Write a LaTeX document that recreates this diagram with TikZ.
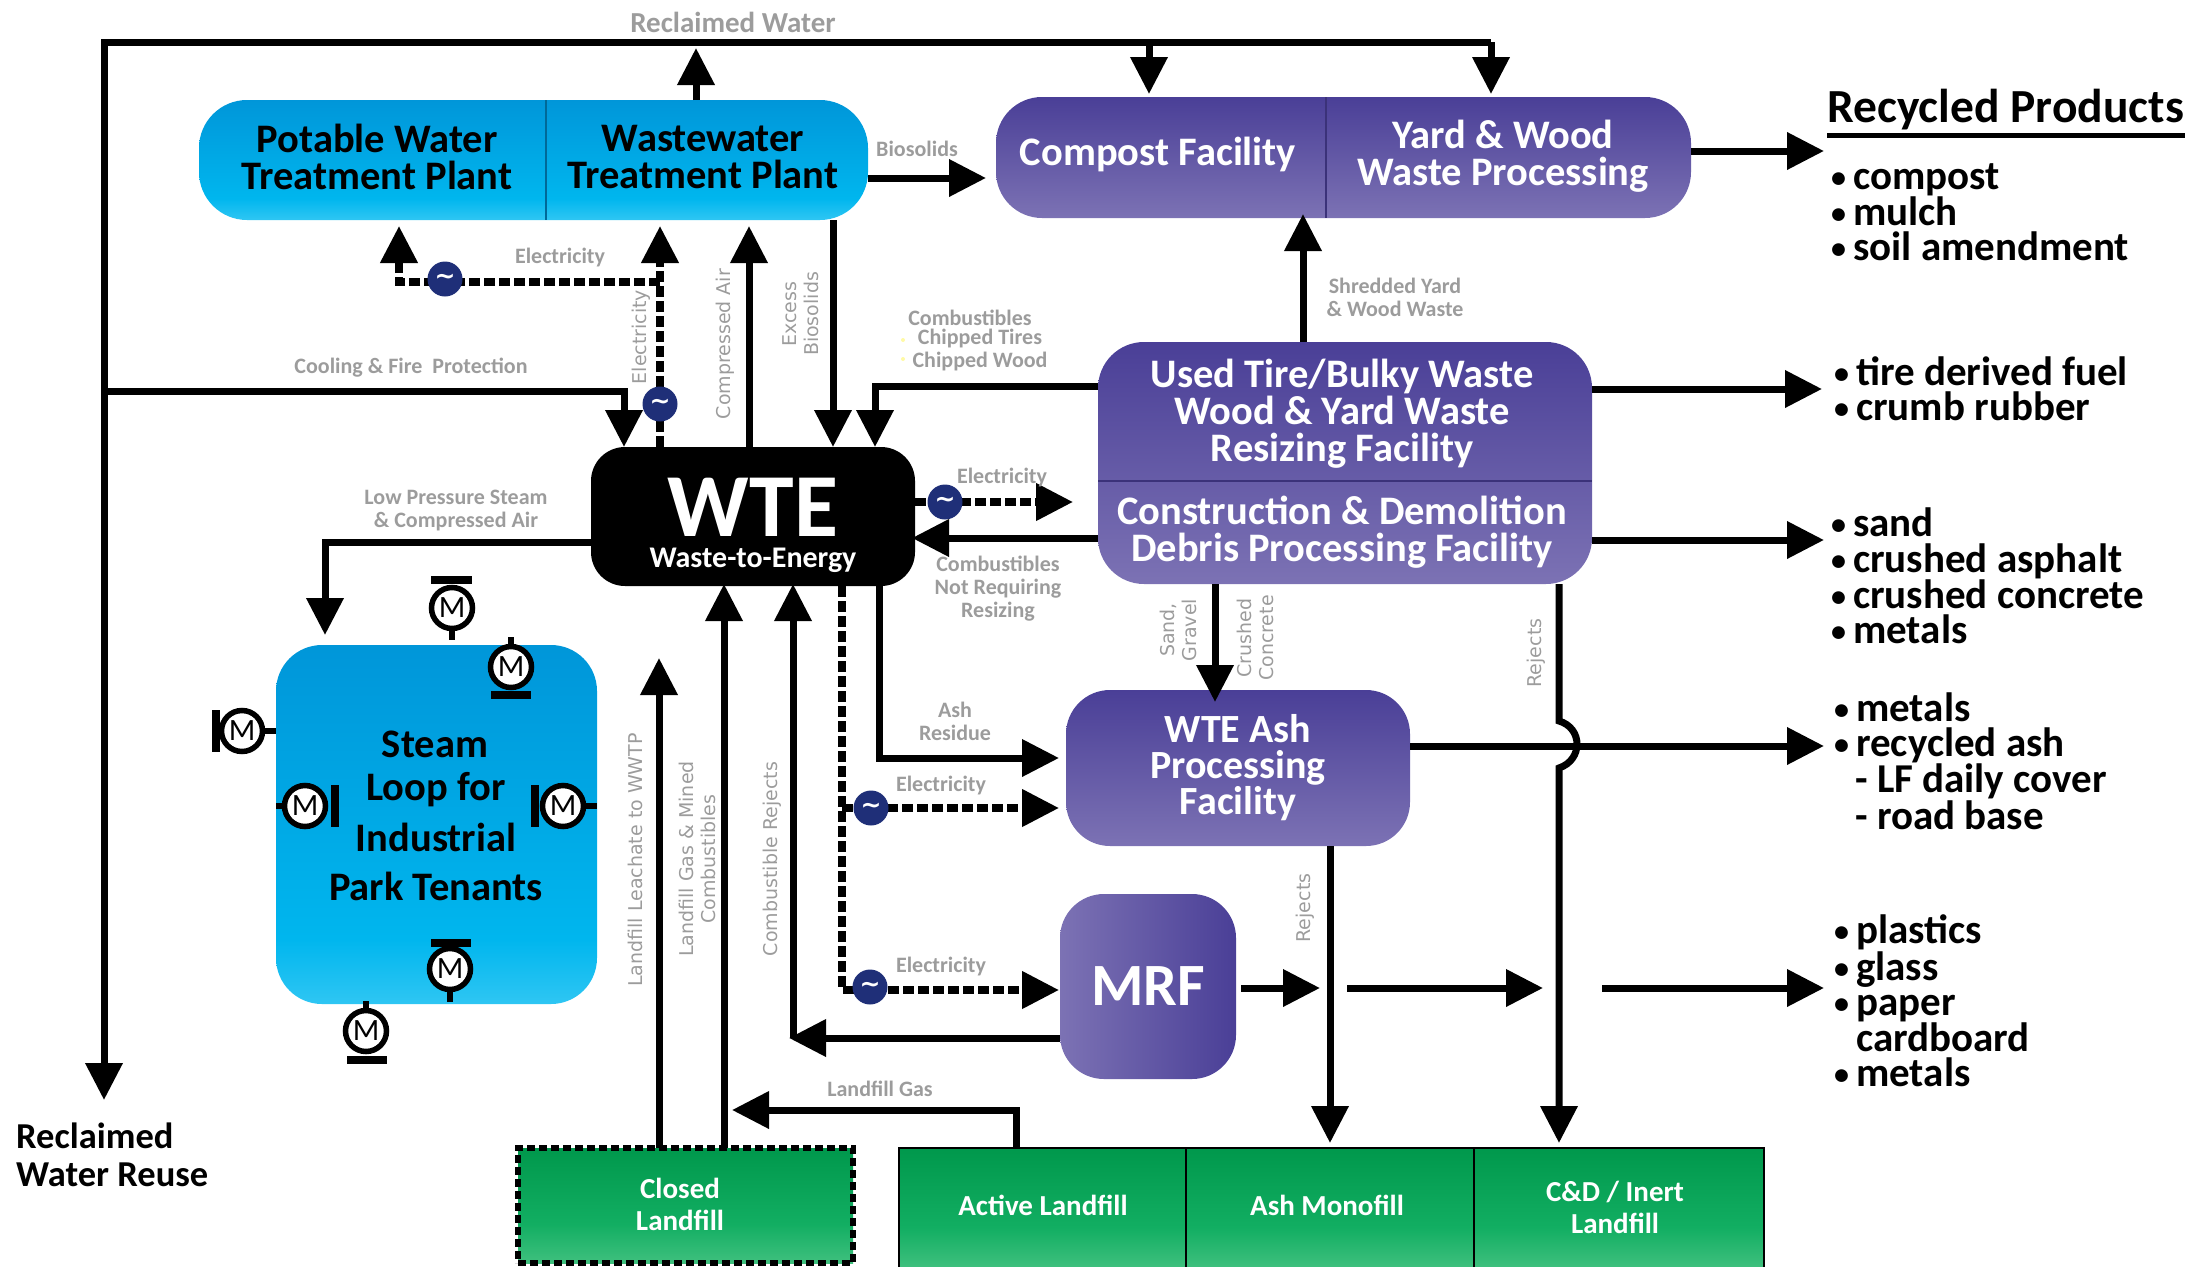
\documentclass[tikz,border=0pt]{standalone}
\usepackage{fontspec}
\setmainfont{Carlito}
\newfontfamily\rotfont{DejaVu Sans}
\usetikzlibrary{arrows.meta,calc}
\definecolor{graytxt}{HTML}{9C9C9C}
\definecolor{navy}{HTML}{1F2F78}
\definecolor{bluetop}{HTML}{0096D9}
\definecolor{bluemid}{HTML}{00B6EE}
\definecolor{bluebot}{HTML}{2FC6F3}
\definecolor{purptop}{HTML}{4A3F97}
\definecolor{purpbot}{HTML}{7C72B4}
\definecolor{greentop}{HTML}{00984C}
\definecolor{greenmid}{HTML}{12AE62}
\definecolor{greenbot}{HTML}{3FC07E}
\pgfdeclareverticalshading{waterblue}{100bp}{color(0bp)=(bluebot);color(25bp)=(bluebot);color(34bp)=(bluemid);color(75bp)=(bluetop);color(100bp)=(bluetop)}
\pgfdeclareverticalshading{procpurple}{100bp}{color(0bp)=(purpbot);color(25bp)=(purpbot);color(75bp)=(purptop);color(100bp)=(purptop)}
\pgfdeclarehorizontalshading{mrfpurple}{100bp}{color(0bp)=(purpbot);color(25bp)=(purpbot);color(75bp)=(purptop);color(100bp)=(purptop)}
\pgfdeclareverticalshading{landgreen}{100bp}{color(0bp)=(greenbot);color(25bp)=(greenbot);color(42bp)=(greenmid);color(75bp)=(greentop);color(100bp)=(greentop)}
\tikzset{
  hd/.style={-{Triangle[length=37pt,width=36pt]}},
  pipe/.style={line width=7pt,draw=black,line join=miter},
  flow/.style={pipe,hd},
  power/.style={line width=7.5pt,draw=black,dash pattern=on 11pt off 4pt},
  powerflow/.style={power,-{Triangle[length=37pt,width=36pt]}},
  box/.style={inner sep=0pt,outer sep=0pt,align=center,text=white},
  waterbox/.style={box,shading=waterblue,rounded corners=48pt,text=black},
  procbox/.style={box,shading=procpurple,rounded corners=46pt},
  landbox/.style={box,shading=landgreen,draw=black,line width=2pt},
  bigtxt/.style={inner sep=0pt,align=center,font=\fontsize{40.5}{37}\selectfont\bfseries},
  landtxt/.style={inner sep=0pt,align=center,text=white,font=\fontsize{29}{32}\selectfont\bfseries},
  lab/.style={inner sep=0pt,align=center,text=graytxt,font=\fontsize{22}{23}\selectfont\bfseries},
  rotlab/.style={inner sep=0pt,align=center,text=graytxt,rotate=90,font=\fontsize{19}{22}\selectfont\rotfont},
  listtxt/.style={inner sep=0pt,align=left,anchor=west,font=\fontsize{41}{35.2}\selectfont\bfseries},
  gen/.style={circle,fill=navy,minimum size=35pt,inner sep=0pt,text=white,font=\fontsize{25}{25}\selectfont\rotfont\bfseries},
  motor/.style={circle,draw=black,fill=white,line width=5.5pt,minimum size=41pt,inner sep=0pt,font=\fontsize{31}{31}\selectfont},
  mbar/.style={line width=8pt,draw=black},
  mstem/.style={line width=6pt,draw=black},
  divline/.style={line width=1.5pt},
}
\newcommand{\bul}{\makebox[24pt][l]{\hspace{2pt}\raisebox{2pt}{\fontsize{30}{30}\selectfont •}}}
\begin{document}
\begin{tikzpicture}[x=1pt,y=-1pt]
\useasboundingbox (0,0) rectangle (2202,1266);
% ---------- boxes
\node[waterbox,minimum width=669pt,minimum height=120pt] (water) at (533.5,160) {};
\draw[divline,draw=bluetop!70!black] (water.north -| 546,0) -- (water.south -| 546,0);
\node[bigtxt] (pwtp) at (377,157) {Potable Water\\Treatment Plant};
\node[bigtxt] (wwtp) at (703,157) {Wastewater\\Treatment Plant};
\node[procbox,minimum width=695pt,minimum height=121pt] (compost) at (1343.5,157.5) {};
\draw[divline,draw=purptop!80!black] (compost.north -| 1326,0) -- (compost.south -| 1326,0);
\node[bigtxt,text=white] (compt) at (1158,154) {Compost Facility};
\node[bigtxt,text=white] (yard) at (1503,156) {Yard \& Wood\\Waste Processing};
\node[procbox,minimum width=494pt,minimum height=242pt] (resize) at (1345,463) {};
\draw[divline,draw=purptop!80!black] (resize.west |- 0,481) -- (resize.east |- 0,481);
\node[bigtxt,text=white] (tires) at (1342,414) {Used Tire/Bulky Waste\\Wood \& Yard Waste\\Resizing Facility};
\node[bigtxt,text=white] (cdfac) at (1342,532) {Construction \& Demolition\\Debris Processing Facility};
\node[box,fill=black,rounded corners=34pt,minimum width=324pt,minimum height=139pt] (wte) at (753,516.5) {};
\node[inner sep=0pt,text=white,font=\fontsize{90}{90}\selectfont\bfseries] (wtet) at (753,507) {WTE};
\node[inner sep=0pt,text=white,font=\fontsize{30}{30}\selectfont\bfseries] (wtes) at (753,560) {Waste-to-Energy};
\node[waterbox,rounded corners=46pt,minimum width=321pt,minimum height=359pt] (steam) at (436.5,824.5) {};
\node[procbox,rounded corners=44pt,minimum width=344pt,minimum height=156pt,font=\fontsize{40}{36}\selectfont\bfseries] (ash) at (1238,768) {WTE Ash\\Processing\\Facility};
\node[box,shading=mrfpurple,rounded corners=44pt,minimum width=176pt,minimum height=185pt,font=\fontsize{60}{60}\selectfont\bfseries] (mrf) at (1148,986.5) {MRF};
\node[landbox,dash pattern=on 8pt off 4pt,line width=6pt,minimum width=335pt,minimum height=115pt] (closed) at (685.5,1205.5) {};
\node[landtxt] (closedt) at (680,1204) {Closed\\Landfill};
\node[landbox,minimum width=287pt,minimum height=120pt] (active) at (1042.5,1208) {};
\node[landtxt] (activet) at (1043,1205) {Active Landfill};
\node[landbox,minimum width=288pt,minimum height=120pt] (mono) at (1330,1208) {};
\node[landtxt] (monot) at (1327,1205) {Ash Monofill};
\node[landbox,minimum width=290pt,minimum height=120pt] (inert) at (1619,1208) {};
\node[landtxt] (inertt) at (1615,1207) {C\&D / Inert\\Landfill};
% ---------- reclaimed water main
\coordinate (leftend) at (104,1100);
\coordinate (topleft) at (104,42);
\coordinate (topright) at (1491,42);
\draw[flow] (topright) -- (topleft) -- (leftend);
\draw[pipe,hd,shorten >=3pt] (topright) -- (compost.north -| topright);
\draw[pipe,hd,shorten >=3pt] (1149,42) -- (compost.north -| 1149,0);
\draw[flow,shorten >=6pt] (water.north -| 696,0) -- (topleft -| 696,0);
\draw[flow,shorten >=10pt] (water.east |- 0,178) -- (compost.west |- 0,178);
\draw[flow] (compost.east |- 0,151) -- (1824,151);
% ---------- WTE top connections
\draw[flow] (topleft |- 0,391) -- (624,391) -- (wte.north -| 624,0);
\draw[flow,shorten >=6pt] (wte.north -| 749,0) -- (water.south -| 749,0);
\draw[flow] (water.south -| 833,0) -- (wte.north -| 833,0);
\draw[flow] (resize.west |- 0,386) -- (875,386) -- (wte.north -| 875,0);
\draw[powerflow,shorten >=6pt] (wte.north -| 660,0) -- (water.south -| 660,0);
\draw[powerflow,shorten >=6pt] (660,282) -- (399,282) -- (water.south -| 399,0);
\node[gen] (g1) at (445,279) {∼};
\node[gen] (g2) at (660,404) {∼};
% ---------- WTE sides
\draw[powerflow,shorten >=-1pt] (wte.east |- 0,502) -- (1072,502);
\node[gen] (g3) at (945,502) {∼};
\draw[flow,shorten >=-3pt] (resize.west |- 0,538) -- (wte.east |- 0,538);
\draw[flow] (wte.west |- 0,542) -- (325,542) -- (325,635);
% ---------- WTE bottom
\draw[flow,shorten >=-2pt] (closed.north -| 659,0) -- (659,660);
\draw[flow,shorten >=-2pt] (closed.north -| 724,0) -- (wte.south -| 724,0);
\draw[flow,shorten >=-2pt] (793,1038) -- (wte.south -| 793,0);
\draw[flow,shorten >=-4pt] (mrf.west |- 0,1038) -- (793,1038);
\draw[powerflow,shorten >=1pt] (wte.south -| 842,0) -- (842,990) -- (mrf.west |- 0,990);
\draw[powerflow] (842,808) -- (1059,808);
\draw[flow] (wte.south -| 879,0) -- (879,758) -- (1059,758);
\node[gen] (g4) at (871,808) {∼};
\node[gen] (g5) at (870,987) {∼};
\draw[flow] (active.north -| 1016,0) -- (1016,1110) -- (732,1110);
% ---------- right side
\draw[flow,shorten >=-4pt] (resize.north -| 1303,0) -- (compost.south -| 1303,0);
\draw[flow] (resize.east |- 0,389) -- (1822,389);
\draw[flow] (resize.east |- 0,540) -- (1824,540);
\draw[flow] (ash.east |- 0,746) -- (1824,746);
\draw[flow,shorten >=-12pt] (resize.south -| 1215,0) -- (ash.north -| 1215,0);
\draw[flow,shorten >=5pt] (ash.south -| 1330,0) -- (mono.north -| 1330,0);
\draw[flow,shorten >=5pt] (resize.south -| 1559,0) -- (1559,721) .. controls (1583,728) and (1583,760) .. (1559,768) -- (inert.north -| 1559,0);
\coordinate (m0) at (1241,988);
\coordinate (m1e) at (1320,988);
\coordinate (m2s) at (1347,988);
\coordinate (m2e) at (1543,988);
\coordinate (m3s) at (1602,988);
\coordinate (m3e) at (1824,988);
\draw[flow] (m0) -- (m1e);
\draw[flow] (m2s) -- (m2e);
\draw[flow] (m3s) -- (m3e);
% ---------- motors
\node[motor] (mo1) at (452,608) {M};
\draw[mbar] (431,580) -- (472,580);
\draw[mstem] (mo1.south) -- (452,640);
\node[motor] (mo2) at (511,667) {M};
\draw[mbar] (491,695) -- (531,695);
\draw[mstem] (mo2.north) -- (511,637);
\node[motor] (mo3) at (242,731) {M};
\draw[mbar] (216,710) -- (216,752);
\draw[mstem] (mo3.east) -- (steam.west |- mo3);
\node[motor] (mo4) at (305,806) {M};
\draw[mbar] (335,785) -- (335,827);
\draw[mstem] (mo4.west) -- (steam.west |- mo4);
\node[motor] (mo5) at (563,806) {M};
\draw[mbar] (535,785) -- (535,827);
\draw[mstem] (mo5.east) -- (steam.east |- mo5);
\node[motor] (mo6) at (450,969) {M};
\draw[mbar] (431,943) -- (471,943);
\draw[mstem] (mo6.south) -- (450,1002);
\node[motor] (mo7) at (366,1031) {M};
\draw[mbar] (347,1060) -- (387,1060);
\draw[mstem] (mo7.north) -- (366,1001);
% ---------- steam text
\node[bigtxt] (s1) at (435,744) {Steam};
\node[bigtxt] (s2) at (436,790) {Loop for};
\node[bigtxt] (s3) at (436,837) {Industrial};
\node[bigtxt] (s4) at (436,886) {Park Tenants};
% ---------- labels
\node[lab,font=\fontsize{29}{30}\selectfont\bfseries] (lrw) at (733,22) {Reclaimed Water};
\node[lab] (lbio) at (917,149) {Biosolids};
\node[lab] (lel1) at (560,258) {Electricity};
\node[lab] (lcool) at (411,368) {Cooling \& Fire\ \ Protection};
\node[lab] (lcomb) at (970,318) {Combustibles};
\node[lab] (lchip) at (980,350) {Chipped Tires\\Chipped Wood};
\fill[yellow!35] (903,340) circle (2pt) (903,359) circle (2pt);
\node[lab] (lshr) at (1395,297) {Shredded Yard\\\& Wood Waste};
\node[lab] (lel2) at (1002,478) {Electricity};
\node[lab] (lnot) at (998,589) {Combustibles\\Not Requiring\\Resizing};
\node[lab] (llow) at (456,510.5) {Low Pressure Steam\\\& Compressed Air};
\node[lab] (lash) at (955,721.5) {Ash\\Residue};
\node[lab] (lel3) at (941,785) {Electricity};
\node[lab] (lel4) at (941,966) {Electricity};
\node[lab] (lgas) at (880,1089) {Landfill Gas};
\node[rotlab] (r1) at (641,337) {Electricity};
\node[rotlab] (r2) at (725,344) {Compressed Air};
\node[rotlab] (r3) at (801,314) {Excess\\Biosolids};
\node[rotlab] (r4) at (635,860) {Landfill Leachate to WWTP};
\node[rotlab] (r5) at (697,859) {Landfill Gas \& Mined\\Combustibles};
\node[rotlab] (r6) at (772,859) {Combustible Rejects};
\node[rotlab] (r7) at (1178,630) {Sand,\\Gravel};
\node[rotlab] (r8) at (1255,638) {Crushed\\Concrete};
\node[rotlab] (r9) at (1536,653) {Rejects};
\node[rotlab] (r10) at (1305,908) {Rejects};
% ---------- outer texts
\node[inner sep=0pt,align=left,anchor=west,font=\fontsize{36.5}{37.5}\selectfont\bfseries] (reuse) at (16,1155) {Reclaimed\\Water Reuse};
\node[inner sep=0pt,anchor=west,font=\fontsize{47.5}{47.5}\selectfont\bfseries] (rp) at (1827,110) {Recycled Products};
\draw[line width=5pt] (rp.west |- 0,135) -- (2185,135);
\node[listtxt] (l1) at (1829,212) {\bul compost\\\bul mulch\\\bul soil amendment};
\node[listtxt] (l2) at (1832,389) {\bul tire derived fuel\\\bul crumb rubber};
\node[listtxt] (l3) at (1829,576) {\bul sand\\\bul crushed asphalt\\\bul crushed concrete\\\bul metals};
\node[listtxt] (l4) at (1832,761) {\bul metals\\\bul recycled ash\\\hspace{23pt}- LF daily cover\\\hspace{23pt}- road base};
\node[listtxt] (l5) at (1832,1001) {\bul plastics\\\bul glass\\\bul paper\\\hspace{24pt}cardboard\\\bul metals};
\end{tikzpicture}
\end{document}
